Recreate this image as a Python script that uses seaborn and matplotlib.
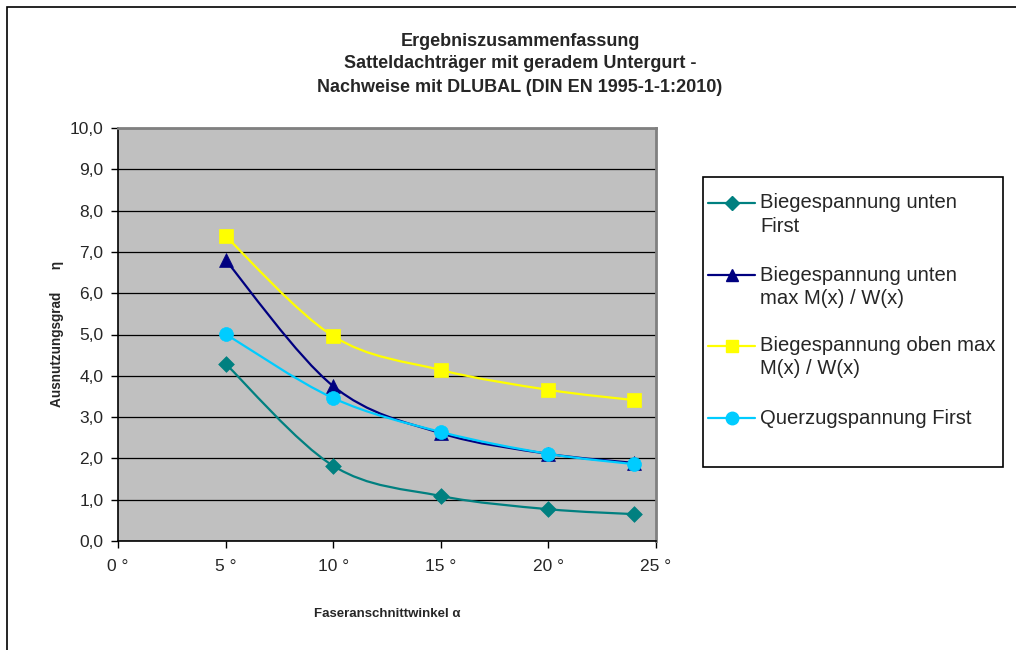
import numpy as np
import pandas as pd
import matplotlib
matplotlib.use("Agg")
import matplotlib.pyplot as plt
from matplotlib.path import Path
from matplotlib.patches import PathPatch, Rectangle
from matplotlib.lines import Line2D
import seaborn as sns

# Fibre cut angle (degrees)
angles = [5, 10, 15, 20, 24]

# Utilisation ratios per verification
biege_unten_first = [4.29, 1.82, 1.09, 0.77, 0.65]
biege_unten_max = [6.80, 3.75, 2.61, 2.11, 1.89]
biege_oben_max = [7.38, 4.96, 4.14, 3.66, 3.41]
querzug_first = [5.01, 3.46, 2.64, 2.11, 1.86]

series_names = [
    "Biegespannung unten\nFirst",
    "Biegespannung unten\nmax M(x) / W(x)",
    "Biegespannung oben max\nM(x) / W(x)",
    "Querzugspannung First",
]
series_values = [biege_unten_first, biege_unten_max, biege_oben_max, querzug_first]
colors = ["#008080", "#000080", "#FFFF00", "#00CCFF"]
markers = ["D", "^", "s", "o"]
marker_sizes = [8, 10, 9.5, 10]

x_ticks = [0, 5, 10, 15, 20, 25]
x_tick_labels = ["0 °", "5 °", "10 °", "15 °", "20 °", "25 °"]
y_ticks = np.arange(0, 11, 1)
y_tick_labels = [f"{v:.1f}".replace(".", ",") for v in y_ticks]

df = pd.DataFrame(
    [(a, name, v) for name, vals in zip(series_names, series_values) for a, v in zip(angles, vals)],
    columns=["angle", "series", "value"],
)

sns.set_style("white")
plt.rcParams["font.family"] = ["Liberation Sans", "DejaVu Sans"]

W, H = 1016, 650
fig = plt.figure(figsize=(W / 100, H / 100), dpi=100)


def fx(px):
    return px / W


def fy(py):
    return 1 - py / H


ax = fig.add_axes([fx(118), fy(541), fx(656 - 118), (541 - 128) / H])
ax.set_facecolor("#C0C0C0")


def smooth_path(xs, ys):
    """Cubic Bezier path through the points (spreadsheet-style smoothing)."""
    pts = np.column_stack([xs, ys]).astype(float)
    n = len(pts)
    verts = [pts[0]]
    codes = [Path.MOVETO]
    for i in range(n - 1):
        p_prev = pts[i - 1] if i > 0 else pts[i]
        p0 = pts[i]
        p1 = pts[i + 1]
        p_next = pts[i + 2] if i + 2 < n else pts[i + 1]
        c1 = p0 + (p1 - p_prev) / 6.0
        c2 = p1 - (p_next - p0) / 6.0
        verts += [c1, c2, p1]
        codes += [Path.CURVE4] * 3
    return Path(verts, codes)


for name, vals, c in zip(series_names, series_values, colors):
    ax.add_patch(PathPatch(smooth_path(angles, vals), facecolor="none",
                           edgecolor=c, lw=1.6, zorder=3))

for name, c, m, ms in zip(series_names, colors, markers, marker_sizes):
    sub = df[df["series"] == name]
    sns.scatterplot(data=sub, x="angle", y="value", ax=ax, color=c, marker=m,
                    s=ms ** 2, edgecolor=c, linewidth=0.5, zorder=4, legend=False)

ax.set_xlim(0, 25)
ax.set_ylim(0, 10)
ax.set_xticks(x_ticks)
ax.set_xticklabels(x_tick_labels, fontsize=12.5)
ax.set_yticks(y_ticks)
ax.set_yticklabels(y_tick_labels, fontsize=12.5)
ax.yaxis.grid(True, color="black", lw=0.9)
ax.set_axisbelow(True)
ax.tick_params(axis="both", direction="out", length=5, width=1, color="black",
               left=True, bottom=True)
ax.tick_params(axis="x", pad=8)
ax.tick_params(axis="y", pad=5.5)
for side in ["left", "bottom"]:
    ax.spines[side].set_color("black")
    ax.spines[side].set_linewidth(1.2)
for side in ["top", "right"]:
    ax.spines[side].set_color("#808080")
    ax.spines[side].set_linewidth(2)
ax.set_xlabel("")
ax.set_ylabel("")

# Axis titles
fig.text(fx(387), fy(614), "Faseranschnittwinkel α", ha="center", va="center",
         fontsize=9.5, fontweight="bold")
fig.text(fx(57), fy(334), "Ausnutzungsgrad      η", ha="center", va="center",
         rotation=90, fontsize=9.8, fontweight="bold")

# Chart title
for line, yy in zip(["Ergebniszusammenfassung",
                     "Satteldachträger mit geradem Untergurt -",
                     "Nachweise mit DLUBAL (DIN EN 1995-1-1:2010)"],
                    [41, 64, 87]):
    fig.text(fx(520), fy(yy), line, ha="center", va="center",
             fontsize=13, fontweight="bold")

# Outer chart frame
fig.patches.append(Rectangle((fx(7), -0.01), 1.02, fy(7) + 0.01,
                             transform=fig.transFigure, fill=False,
                             edgecolor="black", lw=1.2))

# Legend box with one entry per series, marker aligned with the first text line
fig.patches.append(Rectangle((fx(703), fy(467)), fx(1003 - 703), (467 - 177) / H,
                             transform=fig.transFigure, facecolor="white",
                             edgecolor="black", lw=1.2, zorder=1))
entry_y = [203, 275, 346, 418]
legend_ms = [7, 8.5, 8.5, 9]
for name, c, m, ms, yy in zip(series_names, colors, markers, legend_ms, entry_y):
    fig.add_artist(Line2D([fx(708), fx(755)], [fy(yy), fy(yy)], color=c, lw=1.6,
                          transform=fig.transFigure, zorder=2))
    fig.add_artist(Line2D([fx(731.5)], [fy(yy)], color=c, marker=m, markersize=ms,
                          markeredgecolor=c, lw=0, transform=fig.transFigure, zorder=3))
    for k, part in enumerate(name.split("\n")):
        fig.text(fx(760), fy(yy + 23 * k), part, ha="left", va="center",
                 fontsize=14.6, zorder=3)

fig.savefig("out.png", dpi=100)
